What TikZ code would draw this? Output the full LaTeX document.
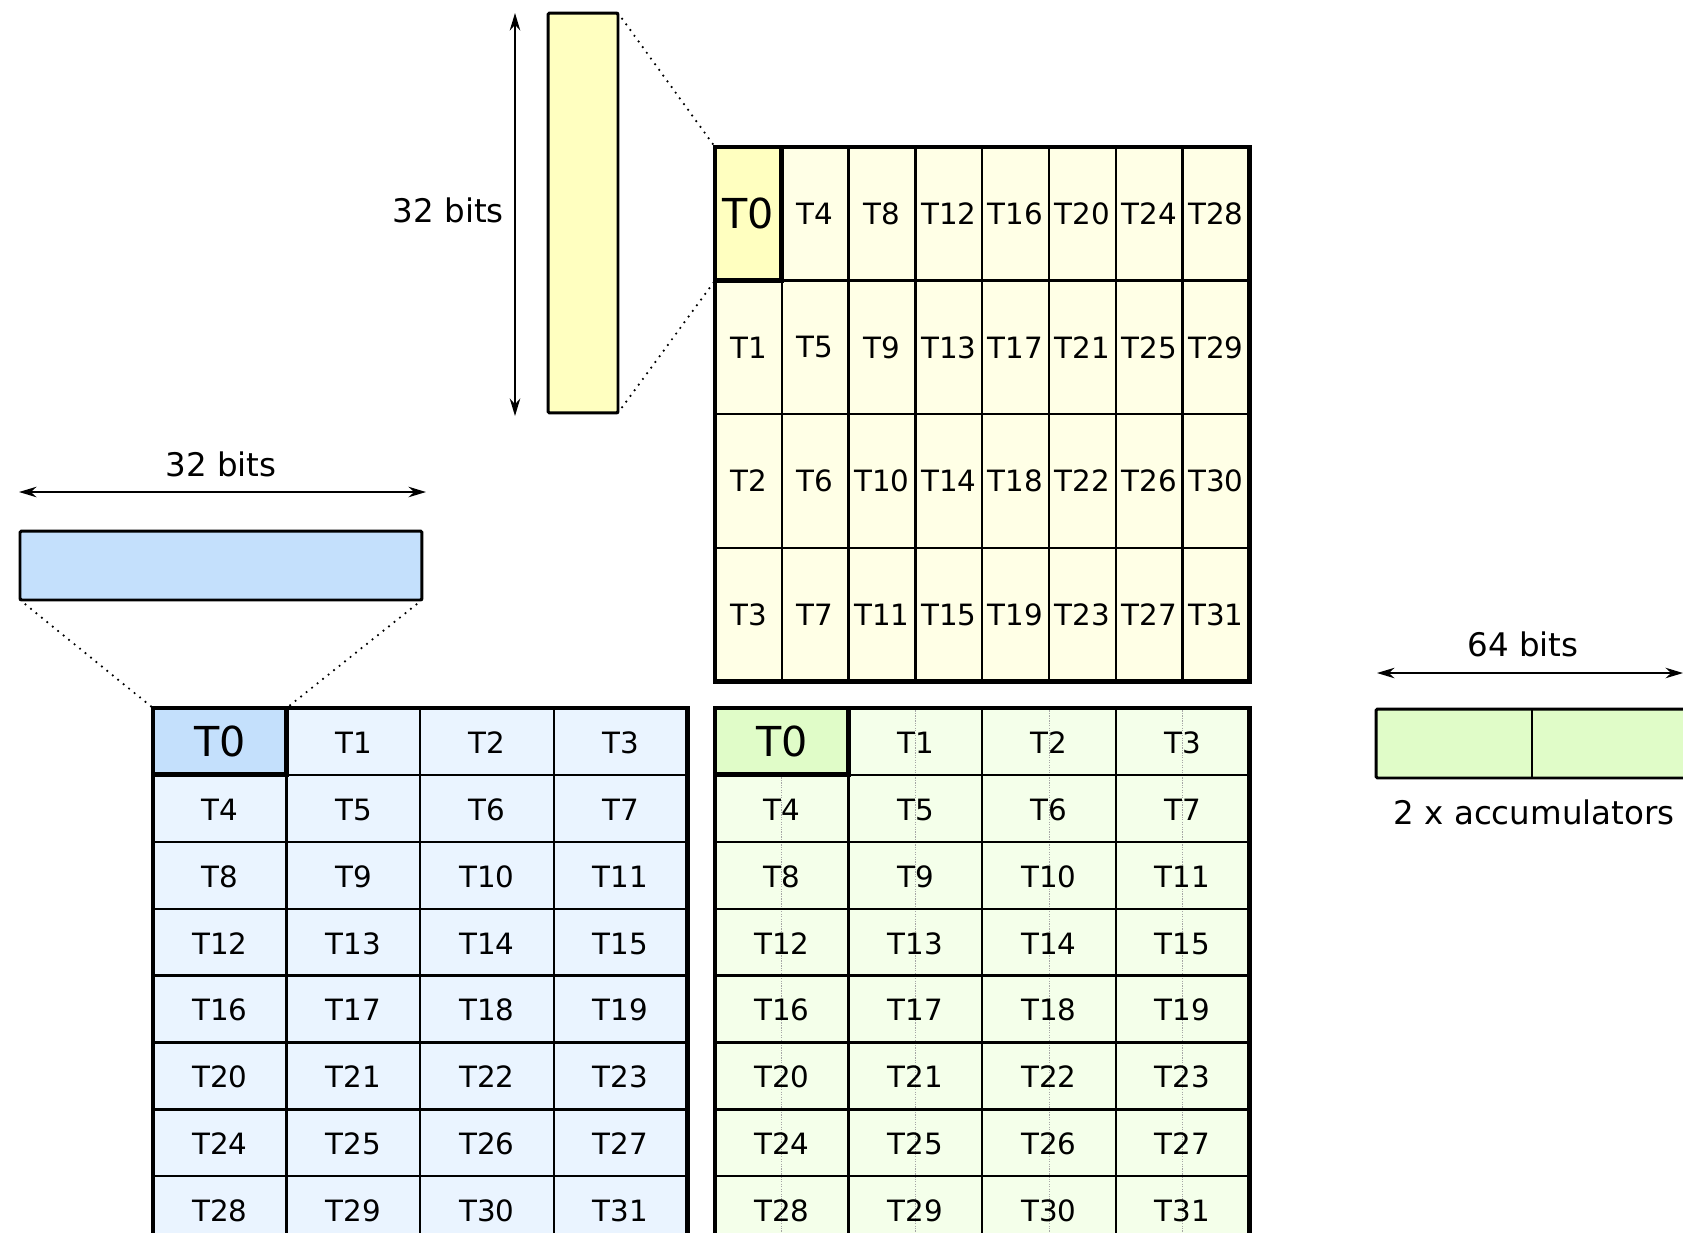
\documentclass[tikz,border=0pt]{standalone}
\usepackage{fontspec}
\setmainfont{DejaVu Sans}
\usetikzlibrary{arrows.meta}
\definecolor{barY}{HTML}{FFFFC0}
\definecolor{cellY}{HTML}{FFFFE6}
\definecolor{barB}{HTML}{C4E0FC}
\definecolor{cellB}{HTML}{EAF4FF}
\definecolor{barG}{HTML}{E0FCC8}
\definecolor{cellG}{HTML}{F4FFEA}
\tikzset{
	cell/.style={draw, line width=1.3pt, inner sep=0pt, outer sep=0pt, anchor=north west, font=\fontsize{16.7}{20}\selectfont},
	ycell/.style={cell, fill=cellY, minimum width=1.336cm, minimum height=2.672cm},
	bcell/.style={cell, fill=cellB, minimum width=2.672cm, minimum height=1.338cm, text height=13.5pt, text depth=0pt},
	gcell/.style={bcell, fill=cellG, path picture={\draw[split] (path picture bounding box.north) -- (path picture bounding box.south);}},
	first/.style={line width=2.8pt, font=\fontsize{23.5}{28}\selectfont, text height=17.2pt, text depth=0pt},
	frame/.style={line width=2.8pt},
	regbar/.style={draw, line width=1.7pt, rounded corners=0.8pt, inner sep=0pt, outer sep=0pt, anchor=north west},
	dim/.style={{Stealth[length=10pt,width=6pt]}-{Stealth[length=10pt,width=6pt]}, line width=0.8pt},
	lbl/.style={font=\fontsize{18.5}{22}\selectfont},
	zoomline/.style={line width=1.4pt, line cap=round, dash pattern=on 0pt off 4pt},
	split/.style={gray!70, line width=0.5pt, dash pattern=on 0.7pt off 0.7pt}
}
\begin{document}
\begin{tikzpicture}[x=0.02cm, y=-0.02cm]
\useasboundingbox (0,0) rectangle (1683,1232);
\clip (0,0) rectangle (1683,1232);
% register bars
\node[regbar, fill=barY, minimum width=1.4cm, minimum height=8cm] (barY) at (548,13) {};
\node[regbar, fill=barB, minimum width=8.04cm, minimum height=1.38cm] (barB) at (20,531) {};
\node[regbar, fill=barG, minimum width=6.24cm, minimum height=1.38cm] (acc) at (1376,709) {};
\draw[line width=1.3pt] (acc.north) -- (acc.south);
% sizes
\coordinate (vt) at (515,13);
\coordinate (vb) at (515,416);
\draw[dim] (vt) -- (vb);
\node[lbl, anchor=east] (lblY) at (510,210) {32 bits};
\coordinate (hl) at (19,492);
\coordinate (hr) at (426,492);
\draw[dim] (hl) -- (hr);
\node[lbl] (lblB) at (221,464) {32 bits};
\coordinate (al) at (1377,673);
\coordinate (ar) at (1683,673);
\draw[dim] (al) -- (ar);
\node[lbl] (lblA) at (1523,644) {64 bits};
\node[lbl] (lblAcc) at (1534,812) {2 x accumulators};
% matrix B (yellow)
\foreach \r in {0,...,3}
{
	\foreach \c in {0,...,7}
	{
		\pgfmathtruncatemacro\n{\r+4*\c}
		\ifnum\n>0
			\node[ycell] (y-\r-\c) at (715+66.8*\c, 147+133.6*\r) {T\n};
		\fi
	}
}
\node[ycell, first, fill=barY] (y-0-0) at (715,147) {T0};
\draw[frame] (y-0-0.north west) rectangle (y-3-7.south east);
% matrix A (blue) and accumulators (green)
\foreach \r in {0,...,7}
{
	\foreach \c in {0,...,3}
	{
		\pgfmathtruncatemacro\n{4*\r+\c}
		\ifnum\n>0
			\node[bcell] (b-\r-\c) at (153+133.6*\c, 708+66.9*\r) {T\n};
			\node[gcell] (g-\r-\c) at (715+133.6*\c, 708+66.9*\r) {T\n};
		\fi
	}
}
\node[bcell, first, fill=barB] (b-0-0) at (153,708) {T0};
\node[bcell, first, fill=barG] (g-0-0) at (715,708) {T0};
\draw[frame] (b-0-0.north west) rectangle (b-7-3.south east);
\draw[frame] (g-0-0.north west) rectangle (g-7-3.south east);
% zoom lines
\draw[zoomline] (barY.north east) -- (y-0-0.north west);
\draw[zoomline] (barY.south east) -- (y-0-0.south west);
\draw[zoomline] (barB.south west) -- (b-0-0.north west);
\draw[zoomline] (barB.south east) -- (b-0-0.north east);
\end{tikzpicture}
\end{document}
